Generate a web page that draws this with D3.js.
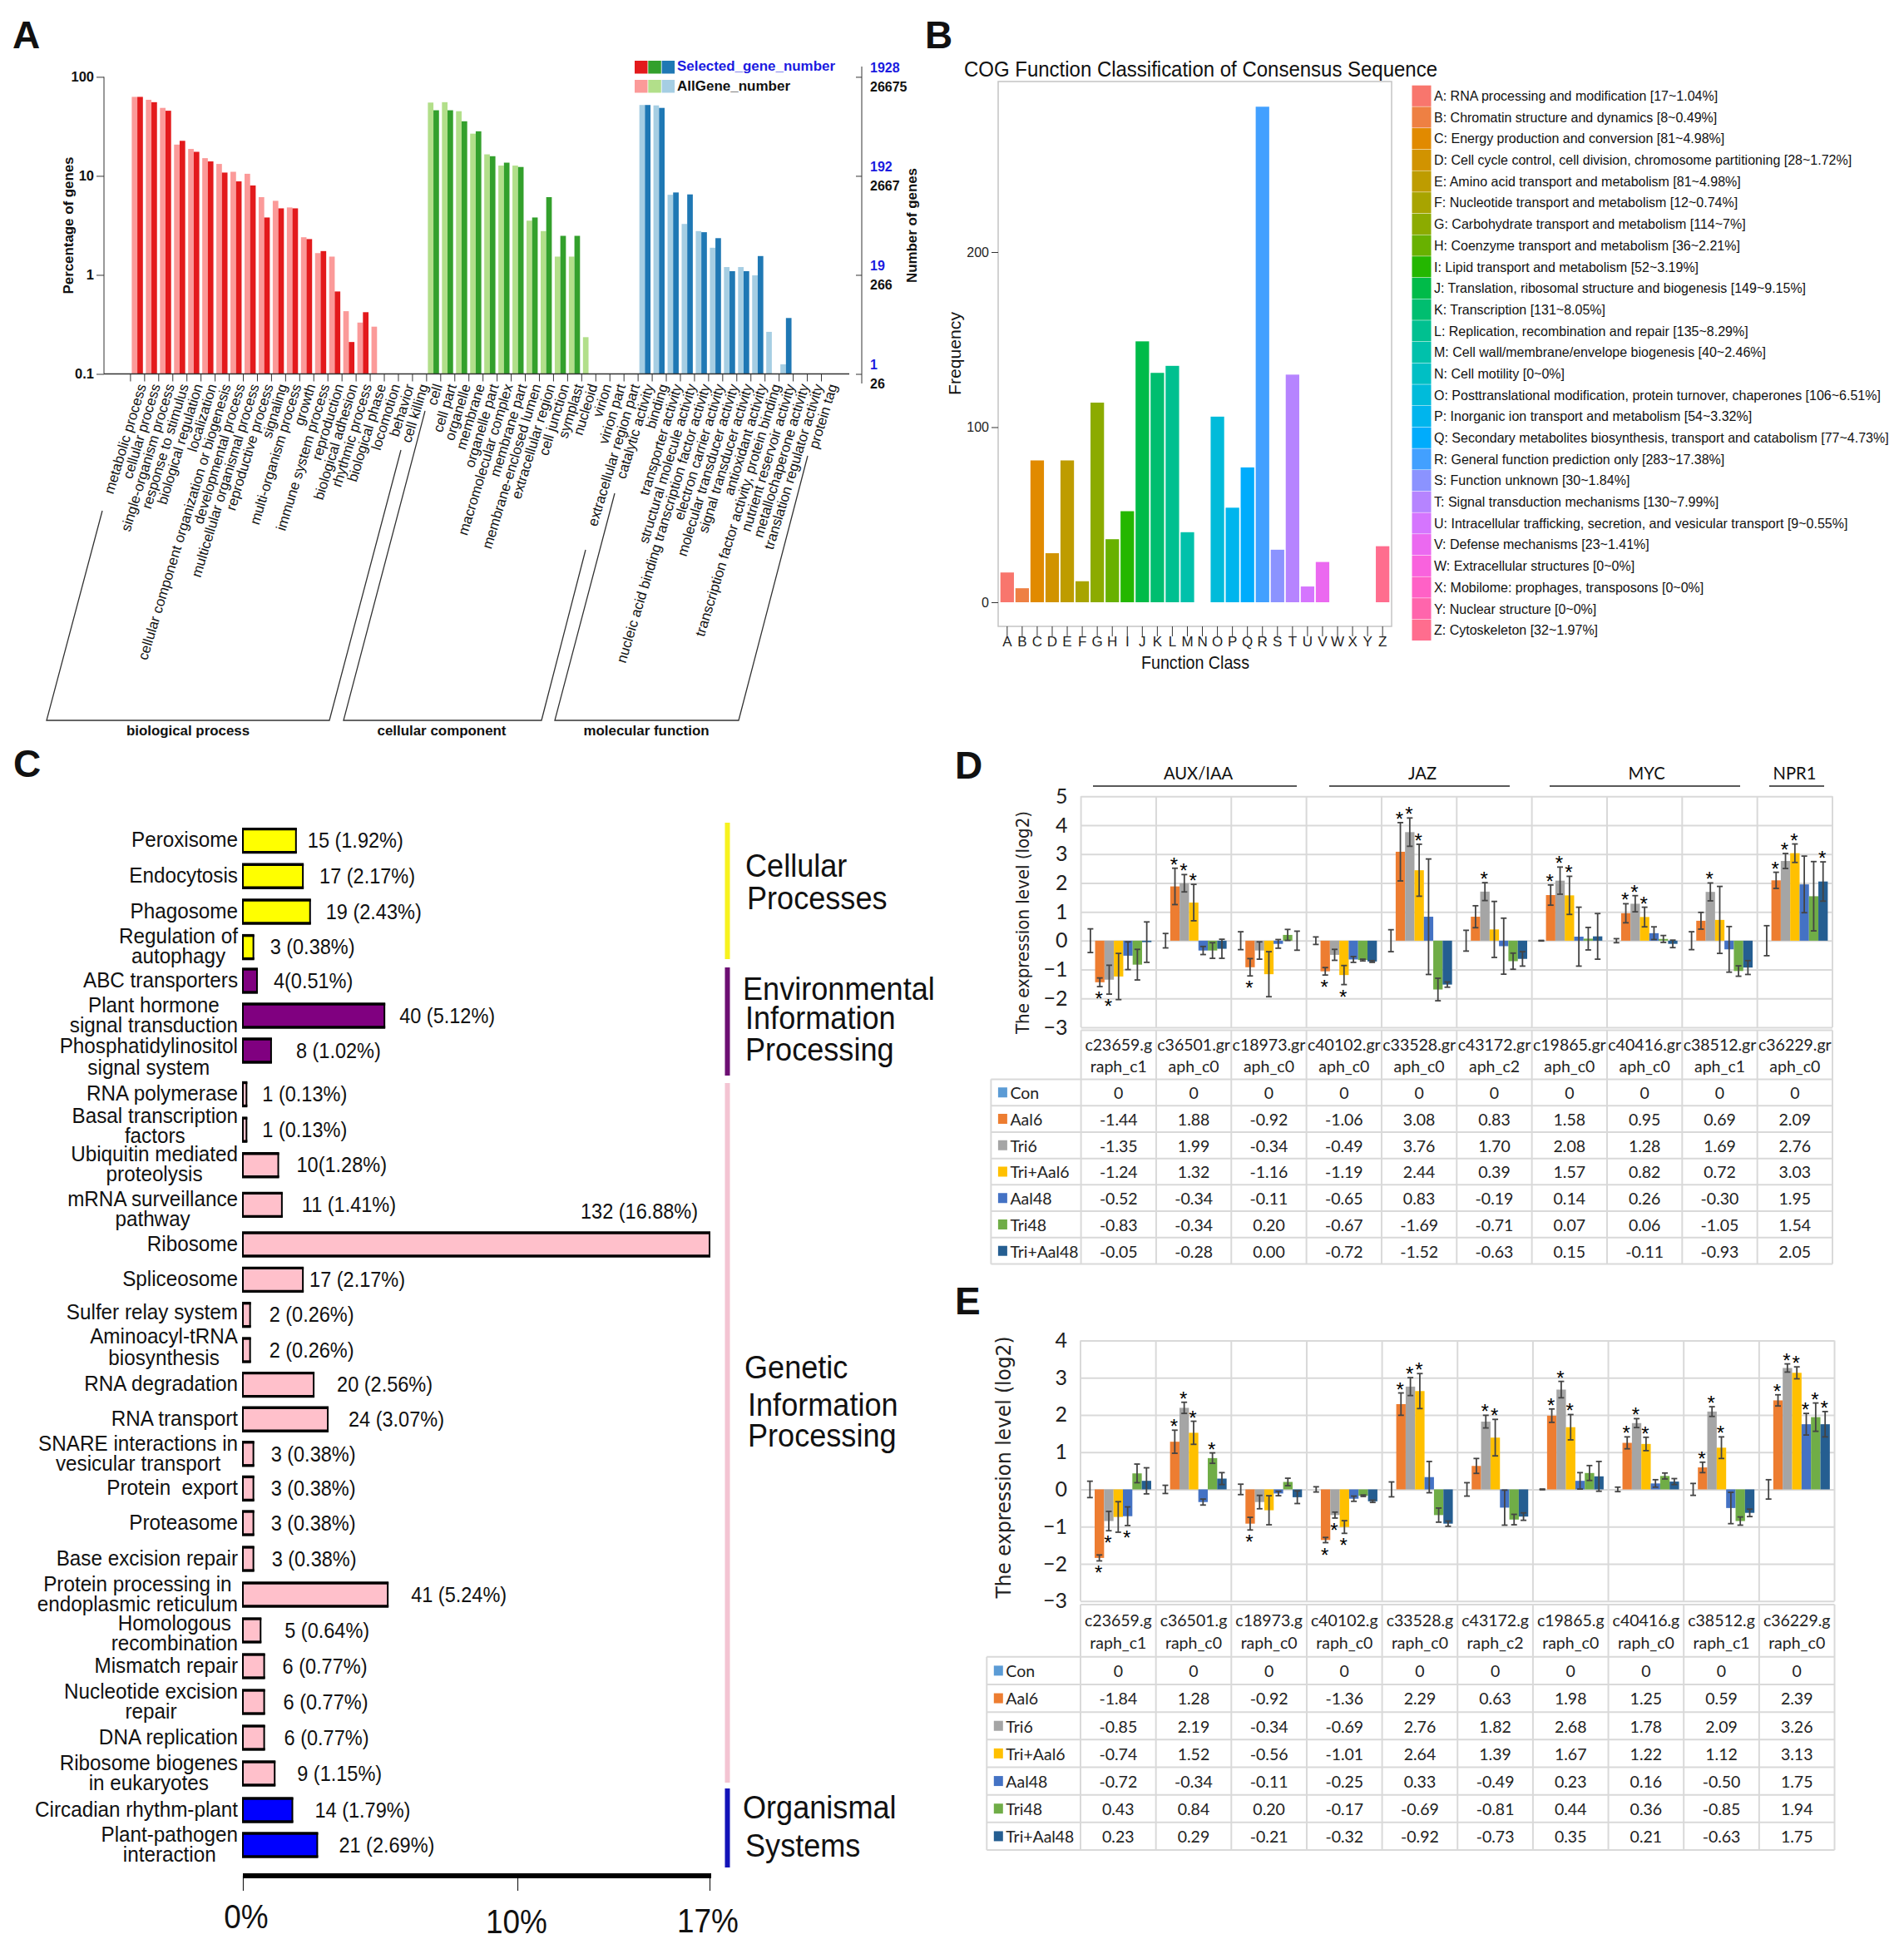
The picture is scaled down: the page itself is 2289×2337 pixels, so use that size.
<!DOCTYPE html>
<html>
<head>
<meta charset="utf-8">
<script src="https://cdn.jsdelivr.net/npm/d3@7"></script>
<style>
  body { margin: 0; background: #fff; }
  text { font-family: "Liberation Sans", Arial, sans-serif; fill: #111; white-space: pre; }
</style>
</head>
<body>
<script>
// ---- panel A data (GO terms)
const goBP = ['metabolic process','cellular process','single-organism process','response to stimulus','biological regulation','localization','cellular component organization or biogenesis','developmental process','multicellular organismal process','reproductive process','signaling','multi-organism process','growth','immune system process','reproduction','biological adhesion','rhythmic process','biological phase','locomotion','behavior','cell killing']
const goCC = ['cell','cell part','organelle','membrane','organelle part','macromolecular complex','membrane part','membrane-enclosed lumen','extracellular region','cell junction','symplast','nucleoid','virion','virion part','extracellular region part']
const goMF = ['catalytic activity','binding','transporter activity','structural molecule activity','nucleic acid binding transcription factor activity','electron carrier activity','molecular transducer activity','signal transducer activity','antioxidant activity','transcription factor activity, protein binding','nutrient reservoir activity','metallochaperone activity','translation regulator activity','protein tag']
const goAllBP = [62.8,58.7,48.6,20.7,18.7,15.1,13.2,11,10.5,6.1,5.6,4.8,2.4,1.66,1.53,0.43,0.33,0.3,null,null,null]
const goSelBP = [62.8,55.5,45.5,22.6,17.5,14,10.8,8.8,8,3.8,4.7,4.7,2.3,1.74,0.68,0.21,0.42,null,null,null,null]
const goAllCC = [55,55.5,45,26.7,16.5,12.7,12.7,3.53,2.77,1.53,1.53,0.235,null,null,null]
const goSelCC = [46,46,35.6,28.2,15.8,13.6,12.3,3.8,6.1,2.48,2.48,null,null,null,null]
const goAllMF = [52,51.5,6.44,3.27,2.77,1.88,1.2,1.2,0.99,0.266,0.125,null,null,null]
const goSelMF = [52,48.6,6.8,6.5,2.7,2.35,1.09,1.09,1.55,null,0.367,null,null,null]
const goLeftTicks = [100,10,1,0.1]
const goSelTicks = ['1928','192','19','1']
const goAllTicks = ['26675','2667','266','26']

// ---- panel B data (COG)
const cogLetters = 'ABCDEFGHIJKLMNOPQRSTUVWXYZ'.split('')
const cogCounts = [17,8,81,28,81,12,114,36,52,149,131,135,40,0,106,54,77,283,30,130,9,23,0,0,0,32]
const cogNames = ['A: RNA processing and modification [17~1.04%]','B: Chromatin structure and dynamics [8~0.49%]','C: Energy production and conversion [81~4.98%]','D: Cell cycle control, cell division, chromosome partitioning [28~1.72%]','E: Amino acid transport and metabolism [81~4.98%]','F: Nucleotide transport and metabolism [12~0.74%]','G: Carbohydrate transport and metabolism [114~7%]','H: Coenzyme transport and metabolism [36~2.21%]','I: Lipid transport and metabolism [52~3.19%]','J: Translation, ribosomal structure and biogenesis [149~9.15%]','K: Transcription [131~8.05%]','L: Replication, recombination and repair [135~8.29%]','M: Cell wall/membrane/envelope biogenesis [40~2.46%]','N: Cell motility [0~0%]','O: Posttranslational modification, protein turnover, chaperones [106~6.51%]','P: Inorganic ion transport and metabolism [54~3.32%]','Q: Secondary metabolites biosynthesis, transport and catabolism [77~4.73%]','R: General function prediction only [283~17.38%]','S: Function unknown [30~1.84%]','T: Signal transduction mechanisms [130~7.99%]','U: Intracellular trafficking, secretion, and vesicular transport [9~0.55%]','V: Defense mechanisms [23~1.41%]','W: Extracellular structures [0~0%]','X: Mobilome: prophages, transposons [0~0%]','Y: Nuclear structure [0~0%]','Z: Cytoskeleton [32~1.97%]']
const cogTicks = [0,100,200]

// ---- panel C data (KEGG)
const keggLabels = [['Peroxisome'],['Endocytosis'],['Phagosome'],['Regulation of','autophagy'],['ABC transporters'],['Plant hormone','signal transduction'],['Phosphatidylinositol','signal system'],['RNA polymerase'],['Basal transcription','factors'],['Ubiquitin mediated','proteolysis'],['mRNA surveillance','pathway'],['Ribosome'],['Spliceosome'],['Sulfer relay system'],['Aminoacyl-tRNA','biosynthesis'],['RNA degradation'],['RNA transport'],['SNARE interactions in','vesicular transport'],['Protein  export'],['Proteasome'],['Base excision repair'],['Protein processing in','endoplasmic reticulum'],['Homologous','recombination'],['Mismatch repair'],['Nucleotide excision','repair'],['DNA replication'],['Ribosome biogenes','in eukaryotes'],['Circadian rhythm-plant'],['Plant-pathogen','interaction']]
const keggPct = [1.92,2.17,2.43,0.38,0.51,5.12,1.02,0.13,0.13,1.28,1.41,16.88,2.17,0.26,0.26,2.56,3.07,0.38,0.38,0.38,0.38,5.24,0.64,0.77,0.77,0.77,1.15,1.79,2.69]
const keggText = ['15 (1.92%)','17 (2.17%)','19 (2.43%)','3 (0.38%)','4(0.51%)','40 (5.12%)','8 (1.02%)','1 (0.13%)','1 (0.13%)','10(1.28%)','11 (1.41%)','132 (16.88%)','17 (2.17%)','2 (0.26%)','2 (0.26%)','20 (2.56%)','24 (3.07%)','3 (0.38%)','3 (0.38%)','3 (0.38%)','3 (0.38%)','41 (5.24%)','5 (0.64%)','6 (0.77%)','6 (0.77%)','6 (0.77%)','9 (1.15%)','14 (1.79%)','21 (2.69%)']
const keggGroupOf = [0,0,0,0,1,1,1,2,2,2,2,2,2,2,2,2,2,2,2,2,2,2,2,2,2,2,2,3,3]
const keggAxisTicks = [0,10,17]

// ---- panels D and E data (qPCR)
const genes1 = ['c23659.g','c36501.gr','c18973.gr','c40102.gr','c33528.gr','c43172.gr','c19865.gr','c40416.gr','c38512.gr','c36229.gr']
const genes2D = ['raph_c1','aph_c0','aph_c0','aph_c0','aph_c0','aph_c2','aph_c0','aph_c0','aph_c1','aph_c0']
const genes1E = ['c23659.g','c36501.g','c18973.g','c40102.g','c33528.g','c43172.g','c19865.g','c40416.g','c38512.g','c36229.g']
const genes2E = ['raph_c1','raph_c0','raph_c0','raph_c0','raph_c0','raph_c2','raph_c0','raph_c0','raph_c1','raph_c0']
const treatments = ['Con','Aal6','Tri6','Tri+Aal6','Aal48','Tri48','Tri+Aal48']

const dCon = [0,0,0,0,0,0,0,0,0,0]
const dAal6 = [-1.44,1.88,-0.92,-1.06,3.08,0.83,1.58,0.95,0.69,2.09]
const dTri6 = [-1.35,1.99,-0.34,-0.49,3.76,1.70,2.08,1.28,1.69,2.76]
const dTriAal6 = [-1.24,1.32,-1.16,-1.19,2.44,0.39,1.57,0.82,0.72,3.03]
const dAal48 = [-0.52,-0.34,-0.11,-0.65,0.83,-0.19,0.14,0.26,-0.30,1.95]
const dTri48 = [-0.83,-0.34,0.20,-0.67,-1.69,-0.71,0.07,0.06,-1.05,1.54]
const dTriAal48 = [-0.05,-0.28,0.00,-0.72,-1.52,-0.63,0.15,-0.11,-0.93,2.05]
const dConErr = [0.41,0.25,0.31,0.13,0.38,0.36,0.01,0.07,0.31,0.52]
const dAal6Err = [0.15,0.63,0.3,0.13,1.01,0.38,0.35,0.33,0.29,0.28]
const dTri6Err = [0.5,0.3,0.3,0.19,0.49,0.31,0.47,0.28,0.31,0.26]
const dTriAal6Err = [0.8,0.63,0.78,0.33,0.9,0.97,0.66,0.34,1.16,0.32]
const dAal48Err = [0.48,0.14,0.15,0.1,2.0,0.97,1.02,0.22,0.79,0.98]
const dTri48Err = [0.53,0.27,0.19,0.03,0.39,0.28,0.39,0.12,0.18,1.2]
const dTriAal48Err = [0.7,0.33,0.33,0.03,0.09,0.25,0.79,0.13,0.24,0.68]
const dStars = [['Aal6','Tri6'],['Aal6','Tri6','Tri+Aal6'],['Aal6'],['Aal6','Tri+Aal6'],['Aal6','Tri6','Tri+Aal6'],['Tri6'],['Aal6','Tri6','Tri+Aal6'],['Aal6','Tri6','Tri+Aal6'],['Tri6'],['Aal6','Tri6','Tri+Aal6','Tri+Aal48']]

const eCon = [0,0,0,0,0,0,0,0,0,0]
const eAal6 = [-1.84,1.28,-0.92,-1.36,2.29,0.63,1.98,1.25,0.59,2.39]
const eTri6 = [-0.85,2.19,-0.34,-0.69,2.76,1.82,2.68,1.78,2.09,3.26]
const eTriAal6 = [-0.74,1.52,-0.56,-1.01,2.64,1.39,1.67,1.22,1.12,3.13]
const eAal48 = [-0.72,-0.34,-0.11,-0.25,0.33,-0.49,0.23,0.16,-0.50,1.75]
const eTri48 = [0.43,0.84,0.20,-0.17,-0.69,-0.81,0.44,0.36,-0.85,1.94]
const eTriAal48 = [0.23,0.29,-0.21,-0.32,-0.92,-0.73,0.35,0.21,-0.63,1.75]
const eConErr = [0.22,0.11,0.14,0.07,0.2,0.18,0.01,0.06,0.16,0.26]
const eAal6Err = [0.08,0.31,0.17,0.07,0.3,0.2,0.18,0.16,0.14,0.15]
const eTri6Err = [0.26,0.15,0.18,0.08,0.24,0.17,0.22,0.12,0.13,0.11]
const eTriAal6Err = [0.41,0.31,0.39,0.17,0.47,0.49,0.34,0.18,0.29,0.16]
const eAal48Err = [0.25,0.08,0.06,0.07,0.42,0.47,0.22,0.1,0.42,0.29]
const eTri48Err = [0.25,0.14,0.1,0.02,0.19,0.14,0.2,0.08,0.11,0.38]
const eTriAal48Err = [0.35,0.16,0.17,0.03,0.07,0.1,0.4,0.08,0.1,0.34]
const eStars = [['Aal6','Tri6','Aal48'],['Aal6','Tri6','Tri+Aal6','Tri48'],['Aal6'],['Aal6','Tri6','Tri+Aal6'],['Aal6','Tri6','Tri+Aal6'],['Tri6','Tri+Aal6'],['Aal6','Tri6','Tri+Aal6'],['Aal6','Tri6','Tri+Aal6'],['Aal6','Tri6','Tri+Aal6'],['Aal6','Tri6','Tri+Aal6','Aal48','Tri48','Tri+Aal48']]

const W = 2289, H = 2337
const svg = d3.select('body').append('svg').attr('width', W).attr('height', H).attr('viewBox', `0 0 ${W} ${H}`)
svg.append('rect').attr('width', W).attr('height', H).attr('fill', '#fff')

// small helper, all the loose text goes through here
function put(parent, str, x, y, o = {}) {
  const t = parent.append('text').text(str)
    .attr('transform', `translate(${x},${y})` + (o.rotate ? ` rotate(${o.rotate})` : ''))
    .attr('font-size', o.size || 16)
    .attr('text-anchor', o.anchor || 'start')
    .attr('dy', o.dy === undefined ? '.35em' : o.dy)
  if (o.weight) t.attr('font-weight', o.weight)
  if (o.fill) t.style('fill', o.fill)
  if (o.family) t.style('font-family', o.family)
  if (o.fit) t.attr('textLength', o.fit).attr('lengthAdjust', 'spacingAndGlyphs')
  // narrower than the font by a factor, the source figure was squeezed a bit
  if (o.squeeze) t.attr('textLength', t.node().getComputedTextLength() * o.squeeze).attr('lengthAdjust', 'spacingAndGlyphs')
  return t
}
function seg(parent, x1, y1, x2, y2, color, w) {
  return parent.append('line').attr('x1', x1).attr('y1', y1).attr('x2', x2).attr('y2', y2)
    .attr('stroke', color).attr('stroke-width', w)
}

// ggplot default hues are polar LUV, d3.hcl is polar Lab and comes out different
function hueLuv(h, c, l) {
  const un = 0.19783, vn = 0.46832
  const u = c * Math.cos(h * Math.PI / 180), v = c * Math.sin(h * Math.PI / 180)
  const Y = Math.pow((l + 16) / 116, 3)
  const up = u / (13 * l) + un, vp = v / (13 * l) + vn
  const X = 9 * Y * up / (4 * vp)
  const Z = -X / 3 - 5 * Y + 3 * Y / vp
  const lin = [3.2406 * X - 1.5372 * Y - 0.4986 * Z, -0.9689 * X + 1.8758 * Y + 0.0415 * Z, 0.0557 * X - 0.204 * Y + 1.057 * Z]
  const [r, g, b] = lin.map(q => {
    const k = Math.min(1, Math.max(0, q))
    return 255 * (k <= 0.0031308 ? 12.92 * k : 1.055 * Math.pow(k, 1 / 2.4) - 0.055)
  })
  return d3.rgb(r, g, b).formatHex()
}

// panel letters
put(svg, 'A', 15, 58, { size: 46, weight: 'bold', dy: 0 })
put(svg, 'B', 1112, 58, { size: 46, weight: 'bold', dy: 0 })
put(svg, 'C', 16, 934, { size: 46, weight: 'bold', dy: 0 })
put(svg, 'D', 1148, 936, { size: 46, weight: 'bold', dy: 0 })
put(svg, 'E', 1148, 1580, { size: 46, weight: 'bold', dy: 0 })

// ================= A =================
const goTerms = goBP.concat(goCC, goMF)
const goAll = goAllBP.concat(goAllCC, goAllMF)
const goSel = goSelBP.concat(goSelCC, goSelMF)
const goDark = ['#e31a1c', '#33a02c', '#1f78b4']
const goLight = ['#fb9a99', '#b2df8a', '#a6cee3']
const goGroup = i => i < goBP.length ? 0 : i < goBP.length + goCC.length ? 1 : 2

const xA = d3.scalePoint().domain(d3.range(goTerms.length)).range([156.4, 987])
const xPair = d3.scaleBand().domain(['all', 'sel']).range([2, 15.4])
const yA = d3.scaleLog().domain([0.1, 100]).range([449.5, 92.4])
const gA = svg.append('g')

function goBars(values, key, palette) {
  gA.selectAll(null).data(values.map((v, i) => ({ v, i })).filter(d => d.v !== null)).enter().append('rect')
    .attr('x', d => xA(d.i) + xPair(key)).attr('width', xPair.bandwidth())
    .attr('y', d => yA(d.v)).attr('height', d => yA(0.1) - yA(d.v))
    .attr('fill', d => palette[goGroup(d.i)])
}
goBars(goAll, 'all', goLight)
goBars(goSel, 'sel', goDark)

const axA = gA.append('g').attr('transform', 'translate(125,0)')
  .call(d3.axisLeft(yA).tickValues(goLeftTicks).tickFormat(d => d).tickSize(9))
axA.selectAll('text').attr('font-size', 16.5).attr('font-weight', 'bold')
axA.selectAll('line').attr('stroke', '#333')
axA.select('.domain').attr('stroke', 'none')
seg(gA, 125, 92.4, 125, 449.5, '#333', 1)
seg(gA, 125, 449.5, 1021, 449.5, '#333', 1.5)

const axAx = gA.append('g').attr('transform', 'translate(0,449.5)')
  .call(d3.axisBottom(xA).tickFormat('').tickSize(9))
axAx.select('.domain').attr('stroke', 'none')
axAx.selectAll('line').attr('stroke', '#333')

goTerms.forEach((term, i) => {
  put(gA, term, xA(i) + 14, 462, { size: 17, anchor: 'end', rotate: -73, dy: '.35em' })
})

// right side axis, two count scales share one tick
const axR = gA.append('g').attr('transform', 'translate(1036,0)')
  .call(d3.axisLeft(yA).tickValues(goLeftTicks).tickFormat('').tickSize(7))
axR.select('.domain').attr('stroke', 'none')
axR.selectAll('line').attr('stroke', '#333')
seg(gA, 1036, 80, 1036, 461, '#333', 1)
goLeftTicks.forEach((v, i) => {
  put(gA, goSelTicks[i], 1046, yA(v) - 11, { size: 16, weight: 'bold', fill: '#1a1ae0' })
  put(gA, goAllTicks[i], 1046, yA(v) + 12, { size: 16, weight: 'bold' })
})
put(gA, 'Percentage of genes', 82, 271, { size: 16, weight: 'bold', anchor: 'middle', rotate: -90, fit: 165 })
put(gA, 'Number of genes', 1096, 271, { size: 16, weight: 'bold', anchor: 'middle', rotate: -90, fit: 138 })

// legend
goDark.forEach((c, i) => gA.append('rect').attr('x', 763 + i * 16.3).attr('y', 73).attr('width', 15.5).attr('height', 15.5).attr('fill', c))
goLight.forEach((c, i) => gA.append('rect').attr('x', 763 + i * 16.3).attr('y', 96).attr('width', 15.5).attr('height', 15.5).attr('fill', c))
put(gA, 'Selected_gene_number', 814, 79, { size: 16, weight: 'bold', fill: '#1a1ae0', fit: 190 })
put(gA, 'AllGene_number', 814, 103, { size: 16, weight: 'bold', fit: 136 })

// brackets under the labels
const bracket = d3.line()
const bracketPaths = [
  [[123, 614], [56, 866], [396, 866], [482, 541]],
  [[511, 494], [413, 866], [651, 866], [704, 661]],
  [[739, 593], [667, 866], [888, 866], [971, 548]]
]
bracketPaths.forEach(p => gA.append('path').attr('d', bracket(p)).attr('fill', 'none').attr('stroke', '#333').attr('stroke-width', 1.3))
put(gA, 'biological process', 226, 878, { size: 16.5, weight: 'bold', anchor: 'middle', fit: 148 })
put(gA, 'cellular component', 531, 878, { size: 16.5, weight: 'bold', anchor: 'middle', fit: 155 })
put(gA, 'molecular function', 777, 878, { size: 16.5, weight: 'bold', anchor: 'middle', fit: 151 })

// ================= B =================
const gB = svg.append('g')
const cogColor = cogLetters.map((l, i) => hueLuv(15 + i * 360 / 26, 100, 65))
const xB = d3.scaleBand().domain(cogLetters).range([1200, 1673]).paddingInner(0.1).paddingOuter(0.15)
const yB = d3.scaleLinear().domain([0, 200]).range([724, 303])

gB.append('rect').attr('x', 1200).attr('y', 98).attr('width', 473).attr('height', 655)
  .attr('fill', 'none').attr('stroke', '#c4c4c4').attr('stroke-width', 1.5)
gB.selectAll('rect.bar').data(cogCounts).enter().append('rect').attr('class', 'bar')
  .attr('x', (d, i) => xB(cogLetters[i])).attr('width', xB.bandwidth())
  .attr('y', d => yB(d)).attr('height', d => yB(0) - yB(d))
  .attr('fill', (d, i) => cogColor[i])

const axBy = gB.append('g').attr('transform', 'translate(1200,0)')
  .call(d3.axisLeft(yB).tickValues(cogTicks).tickSize(8))
axBy.select('.domain').attr('stroke', 'none')
axBy.selectAll('text').attr('font-size', 16).style('fill', '#222')
axBy.selectAll('line').attr('stroke', '#333')
const axBx = gB.append('g').attr('transform', 'translate(0,753)')
  .call(d3.axisBottom(xB).tickSize(12))
axBx.select('.domain').attr('stroke', 'none')
axBx.selectAll('text').attr('font-size', 17).attr('dy', '.5em').style('fill', '#222')
axBx.selectAll('line').attr('stroke', '#333')

put(gB, 'COG Function Classification of Consensus Sequence', 1159, 83, { size: 26, fit: 569 })
put(gB, 'Frequency', 1147.6, 425, { size: 21, anchor: 'middle', rotate: -90, fit: 100 })
put(gB, 'Function Class', 1437, 796, { size: 22, anchor: 'middle', fit: 130 })

const legB = d3.scaleBand().domain(cogLetters).range([102.7, 770]).paddingInner(0.02)
gB.selectAll('rect.sw').data(cogLetters).enter().append('rect').attr('class', 'sw')
  .attr('x', 1697.5).attr('width', 23).attr('y', d => legB(d)).attr('height', legB.bandwidth())
  .attr('fill', (d, i) => cogColor[i])
cogNames.forEach((s, i) => put(gB, s, 1724, legB(cogLetters[i]) + legB.bandwidth() / 2, { size: 16.5, squeeze: 0.97 }))

// ================= C =================
const gC = svg.append('g')
// the bars run a little past the hand drawn axis, so each gets its own scale
const xC = d3.scaleLinear().domain([0, 16.88]).range([292, 853])
const xCAxis = d3.scaleLinear().domain([0, 17]).range([292, 853])
const keggColors = ['#ffff00', '#800080', '#ffc0cb', '#0000ff']
const keggStripe = ['#f7f21f', '#6d0f73', '#f3c4d2', '#1313b8']
// row index to y, rows are not spaced quite evenly in the figure so this is piecewise
const rowY = d3.scaleLinear()
  .domain([0, 3, 4, 6, 7, 9, 11, 14, 19, 26, 27, 28])
  .range([1010.6, 1138.6, 1179, 1263, 1315.5, 1400.7, 1496, 1623, 1831, 2132, 2176, 2218])
// how far each value label sits from the end of its bar
const keggGap = [14,20,19,20,20,18,30,19,19,22,24,-155,8,23,23,28,25,21,21,21,22,28,29,22,23,24,27,27,26]
const keggLabelNudge = { 6: 8, 8: -4, 10: 6, 13: -2, 14: -3, 22: 4 }
const keggLineGap = { 6: 26, 14: 26 }

gC.selectAll('rect.fill').data(keggPct).enter().append('rect').attr('class', 'fill')
  .attr('x', xC(0)).attr('y', (d, i) => rowY(i) - 14)
  .attr('width', d => xC(d) - xC(0)).attr('height', 28)
  .attr('fill', (d, i) => keggColors[keggGroupOf[i]])
  .attr('stroke', '#000').attr('stroke-width', 2)
keggPct.forEach((d, i) => {
  seg(gC, xC(0) - 1, rowY(i) - 14, xC(d) + 1, rowY(i) - 14, '#000', 3.4)
  seg(gC, xC(0) - 1, rowY(i) + 14, xC(d) + 1, rowY(i) + 14, '#000', 3.4)
})

const rowFont = { size: 25, squeeze: 0.97 }
const labelProbe = put(gC, '', 0, 0, { size: rowFont.size })
keggLabels.forEach((lines, i) => {
  const widths = lines.map(s => { labelProbe.text(s); return labelProbe.node().getComputedTextLength() * rowFont.squeeze })
  const cx = 286 - d3.max(widths) / 2
  const gap = keggLineGap[i] || 24
  const y0 = rowY(i) + (keggLabelNudge[i] || 0) - (lines.length - 1) * gap / 2
  lines.forEach((s, k) => put(gC, s, cx, y0 + k * gap - 1, { size: rowFont.size, squeeze: rowFont.squeeze, anchor: 'middle' }))
})
labelProbe.remove()
keggText.forEach((s, i) => {
  const lift = keggPct[i] > 16 ? -40 : 0
  put(gC, s, xC(keggPct[i]) + keggGap[i], rowY(i) + lift, { size: 25, squeeze: 0.94 })
})

const axC = gC.append('g').attr('transform', 'translate(0,2255)')
  .call(d3.axisBottom(xCAxis).tickValues(keggAxisTicks).tickFormat('').tickSize(18))
axC.select('.domain').attr('stroke', 'none')
axC.selectAll('line').attr('stroke', '#222').attr('stroke-width', 1.2)
seg(gC, 292, 2255, 855, 2255, '#000', 6)
put(gC, '0%', 296, 2304, { size: 41, anchor: 'middle', squeeze: 0.9 })
put(gC, '10%', 621, 2310, { size: 41, anchor: 'middle', squeeze: 0.9 })
put(gC, '17%', 851, 2309, { size: 41, anchor: 'middle', squeeze: 0.9 })

const stripes = [[989, 1153], [1163, 1293], [1302, 2143], [2150, 2245]]
stripes.forEach((s, g) => gC.append('rect').attr('x', 871.5).attr('y', s[0]).attr('width', 6).attr('height', s[1] - s[0]).attr('fill', keggStripe[g]))
const groupWords = [['Cellular', 896, 1041], ['Processes', 898, 1080], ['Environmental', 893, 1189], ['Information', 896, 1224], ['Processing', 896, 1262], ['Genetic', 895, 1644], ['Information', 899, 1689], ['Processing', 899, 1726], ['Organismal', 893, 2173], ['Systems', 896, 2219]]
groupWords.forEach(w => put(gC, w[0], w[1], w[2], { size: 38, squeeze: 0.95 }))

// ================= D and E share one drawing function =================
const treatColor = ['#5b9bd5', '#ed7d31', '#a5a5a5', '#ffc000', '#4472c4', '#70ad47', '#255e91']
const lato = 'Lato, "Liberation Sans", sans-serif'
const gridGrey = '#d9d9d9'

function exprPanel(c) {
  const g = svg.append('g')
  const xCol = d3.scaleBand().domain(d3.range(10)).range([c.left, c.right])
  const xBar = d3.scaleBand().domain(treatments).range([0, xCol.bandwidth()]).paddingOuter(0.5).paddingInner(0)
  const y = d3.scaleLinear().domain(c.domain).range([c.bottom, c.top])

  // plot area grid
  const axY = g.append('g').attr('transform', `translate(${c.left},0)`)
    .call(d3.axisLeft(y).tickValues(d3.range(c.domain[0], c.domain[1] + 1)).tickSize(-(c.right - c.left)).tickPadding(c.tickPad).tickFormat(d3.format('d')))
  axY.select('.domain').attr('stroke', 'none')
  axY.selectAll('line').attr('stroke', gridGrey).attr('stroke-width', 2)
  axY.selectAll('text').attr('font-size', 25).style('font-family', lato).style('fill', '#222')
  d3.range(11).forEach(i => {
    const x = c.left + i * xCol.step()
    seg(g, x, c.top, x, c.bottom, gridGrey, 2)
    seg(g, x, c.tableTop, x, c.tableBottom, gridGrey, 2)
  })

  // bars
  c.values.forEach((vals, s) => {
    const name = treatments[s]
    g.selectAll(null).data(vals).enter().append('rect')
      .attr('x', (d, i) => xCol(i) + xBar(name)).attr('width', xBar.bandwidth())
      .attr('y', d => y(Math.max(d, 0))).attr('height', d => Math.abs(y(d) - y(0)))
      .attr('fill', treatColor[s])
  })
  // whiskers and stars
  c.values.forEach((vals, s) => {
    const name = treatments[s]
    vals.forEach((v, i) => {
      const e = c.errors[s][i]
      const cx = xCol(i) + xBar(name) + xBar.bandwidth() / 2
      seg(g, cx, y(v + e), cx, y(v - e), '#444', 1.8)
      seg(g, cx - 3.5, y(v + e), cx + 3.5, y(v + e), '#444', 1.8)
      seg(g, cx - 3.5, y(v - e), cx + 3.5, y(v - e), '#444', 1.8)
      if (c.stars[i].includes(name)) {
        const sy = v >= 0 ? y(v + e) - 9 : y(v - e) + 10
        put(g, '*', cx - 1, sy + 13, { size: 24, anchor: 'middle', dy: 0, fill: '#000' })
      }
    })
  })

  // table under the plot
  const yRow = d3.scaleBand().domain(treatments).range([c.rowsTop, c.tableBottom])
  seg(g, c.left, c.tableTop, c.right, c.tableTop, gridGrey, 2)
  seg(g, c.tableLeft, c.rowsTop, c.right, c.rowsTop, gridGrey, 2)
  seg(g, c.tableLeft, c.rowsTop, c.tableLeft, c.tableBottom, gridGrey, 2)
  treatments.forEach((t, s) => {
    const b = yRow(t) + yRow.bandwidth()
    seg(g, c.tableLeft, b, c.right, b, gridGrey, 2)
    const mid = yRow(t) + yRow.bandwidth() / 2
    g.append('rect').attr('x', c.tableLeft + 8.5).attr('y', mid - 6).attr('width', 11).attr('height', 12).attr('fill', treatColor[s])
    put(g, t, c.tableLeft + 23, mid + 1, { size: 19.5, family: lato, fill: '#222', fit: t === 'Tri+Aal48' ? 82 : null })
    c.values[s].forEach((v, i) => {
      const str = s === 0 ? '0' : v.toFixed(2)
      put(g, str, xCol(i) + xCol.bandwidth() / 2, mid + 1, { size: 19.5, anchor: 'middle', family: lato, fill: '#222' })
    })
  })
  c.head1.forEach((s, i) => {
    put(g, s, xCol(i) + xCol.bandwidth() / 2, c.headY[0], { size: 19.5, anchor: 'middle', family: lato, fill: '#222', fit: c.headFit })
    put(g, c.head2[i], xCol(i) + xCol.bandwidth() / 2, c.headY[1], { size: 19.5, anchor: 'middle', family: lato, fill: '#222' })
  })
  put(g, 'The expression level (log2)', c.titleX, c.titleY, { size: c.titleSize, anchor: 'middle', rotate: -90, family: '"DejaVu Sans"', fit: c.titleLen, fill: '#222' })
}

exprPanel({
  left: 1299.6, right: 2203, top: 957.3, bottom: 1235, domain: [-3, 5], tickPad: 16,
  tableTop: 1238.5, rowsTop: 1297.4, tableBottom: 1519.6, tableLeft: 1191.4,
  headY: [1256, 1282], headFit: null,
  head1: genes1, head2: genes2D,
  values: [dCon, dAal6, dTri6, dTriAal6, dAal48, dTri48, dTriAal48],
  errors: [dConErr, dAal6Err, dTri6Err, dTriAal6Err, dAal48Err, dTri48Err, dTriAal48Err],
  stars: dStars, titleX: 1230, titleY: 1109, titleLen: 268, titleSize: 21
})
exprPanel({
  left: 1299, right: 2205.5, top: 1611.4, bottom: 1924.8, domain: [-3, 4], tickPad: 16,
  tableTop: 1929, rowsTop: 1991.8, tableBottom: 2224, tableLeft: 1186.3,
  headY: [1948.5, 1975], headFit: null,
  head1: genes1E, head2: genes2E,
  values: [eCon, eAal6, eTri6, eTriAal6, eAal48, eTri48, eTriAal48],
  errors: [eConErr, eAal6Err, eTri6Err, eTriAal6Err, eAal48Err, eTri48Err, eTriAal48Err],
  stars: eStars, titleX: 1206.7, titleY: 1764, titleLen: 315, titleSize: 24
})

// gene family headers over D
const families = [['AUX/IAA', 1440.6, 1314, 1559], ['JAZ', 1710, 1598, 1815], ['MYC', 1979.6, 1863, 2092], ['NPR1', 2157.5, 2127, 2193]]
families.forEach(f => {
  put(svg, f[0], f[1], 930, { size: 21, anchor: 'middle', family: lato, squeeze: 0.96 })
  seg(svg, f[2], 945, f[3], 945, '#222', 1.6)
})
</script>
</body>
</html>
